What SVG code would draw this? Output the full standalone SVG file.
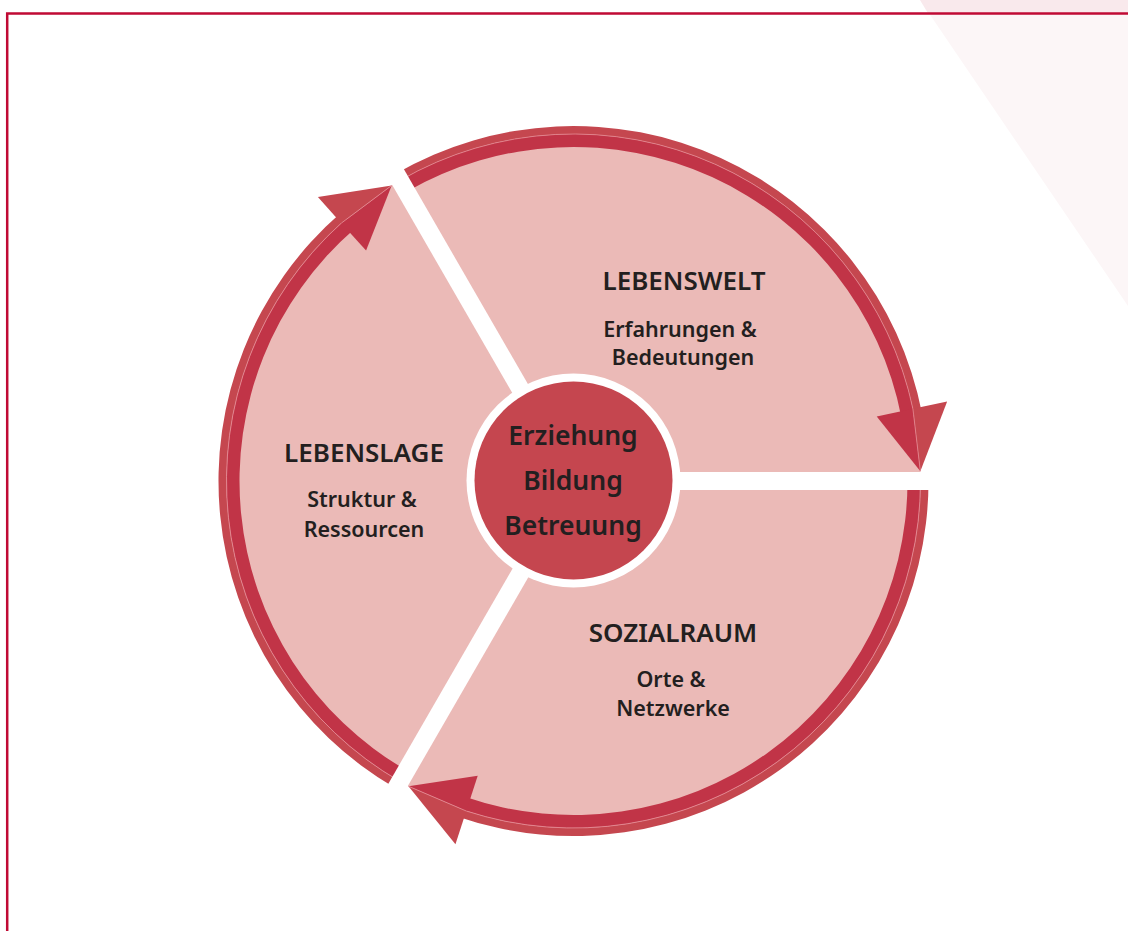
<svg xmlns="http://www.w3.org/2000/svg" xmlns:xlink="http://www.w3.org/1999/xlink" width="1128" height="931" viewBox="0 0 1128 931">
<style>
.title{font-family:"Noto Sans","Liberation Sans",sans-serif;font-weight:600;font-size:26px;fill:#231F20;text-anchor:middle}
.sub{font-family:"Noto Sans","Liberation Sans",sans-serif;font-weight:600;font-size:21.5px;fill:#231F20;text-anchor:middle}
.core{font-family:"Noto Sans","Liberation Sans",sans-serif;font-weight:600;font-size:26.5px;fill:#231F20;text-anchor:middle}
.pink{fill:#EBBAB7}
.dark{fill:#C13447}
.light{fill:#C5474F}
.seam{fill:none;stroke:#E48A93;stroke-width:0.8}
.gap{stroke:#FFFFFF;stroke-width:18;fill:none}
</style>
<defs>
<path id="sector" class="pink" d="M573.5 481 L400 180.49 A347 347 0 0 1 920.5 481 Z"/>
<g id="ringArrow">
<path class="light" d="M396 173.56 A355 355 0 0 1 921.98 413.26 L914.12 414.79 A347 347 0 0 0 400 180.49 Z"/>
<path class="dark" d="M400 180.49 A347 347 0 0 1 914.12 414.79 L901.36 417.27 A334 334 0 0 0 406.5 191.75 Z"/>
<path class="seam" d="M400 180.49 A347 347 0 0 1 912.92 408.85"/>
<polygon class="light" points="912.92,408.85 947.15,401.58 920.36,471.31"/>
<polygon class="dark" points="876.73,416.55 912.92,408.85 920.36,471.31"/>
<path class="seam" d="M912.92 408.85 L920.36 471.31"/>
</g>
</defs>
<rect x="0" y="0" width="1128" height="931" fill="#FFFFFF"/>
<g id="background">
<polygon points="920,0 1128,0 1128,306" fill="#FCF6F7"/>
<polygon points="920,0 1128,0 1128,12.5 927.5,12.5" fill="#F9E9EC"/>
<path d="M7.2 931 V13.5 H1128" fill="none" stroke="#C00A34" stroke-width="2.5"/>
</g>
<g id="node-lebenswelt">
<use xlink:href="#sector" href="#sector"/>
<text class="title" x="684" y="289.5">LEBENSWELT</text>
<text class="sub" x="680" y="336.5">Erfahrungen &amp;</text>
<text class="sub" x="683" y="365">Bedeutungen</text>
</g>
<g id="node-sozialraum">
<use xlink:href="#sector" href="#sector" transform="rotate(120 573.5 481)"/>
<text class="title" x="673" y="642">SOZIALRAUM</text>
<text class="sub" x="671" y="687">Orte &amp;</text>
<text class="sub" x="673" y="716">Netzwerke</text>
</g>
<g id="node-lebenslage">
<use xlink:href="#sector" href="#sector" transform="rotate(240 573.5 481)"/>
<text class="title" x="364" y="462">LEBENSLAGE</text>
<text class="sub" x="362" y="506.5">Struktur &amp;</text>
<text class="sub" x="364" y="537">Ressourcen</text>
</g>
<g id="connectors">
<use xlink:href="#ringArrow" href="#ringArrow"/>
<use xlink:href="#ringArrow" href="#ringArrow" transform="rotate(120 573.5 481)"/>
<use xlink:href="#ringArrow" href="#ringArrow" transform="rotate(240 573.5 481)"/>
</g>
<g id="gaps">
<line class="gap" x1="573.5" y1="481" x2="945" y2="481"/>
<line class="gap" x1="573.5" y1="481" x2="388.5" y2="801.43"/>
<line class="gap" x1="573.5" y1="481" x2="388.5" y2="160.57"/>
</g>
<g id="node-center">
<circle cx="573.5" cy="480.5" r="107" fill="#FFFFFF"/>
<circle cx="573.5" cy="480.5" r="99" fill="#C5464F"/>
<text class="core" x="573" y="445">Erziehung</text>
<text class="core" x="573" y="490">Bildung</text>
<text class="core" x="573" y="535">Betreuung</text>
</g>
</svg>
